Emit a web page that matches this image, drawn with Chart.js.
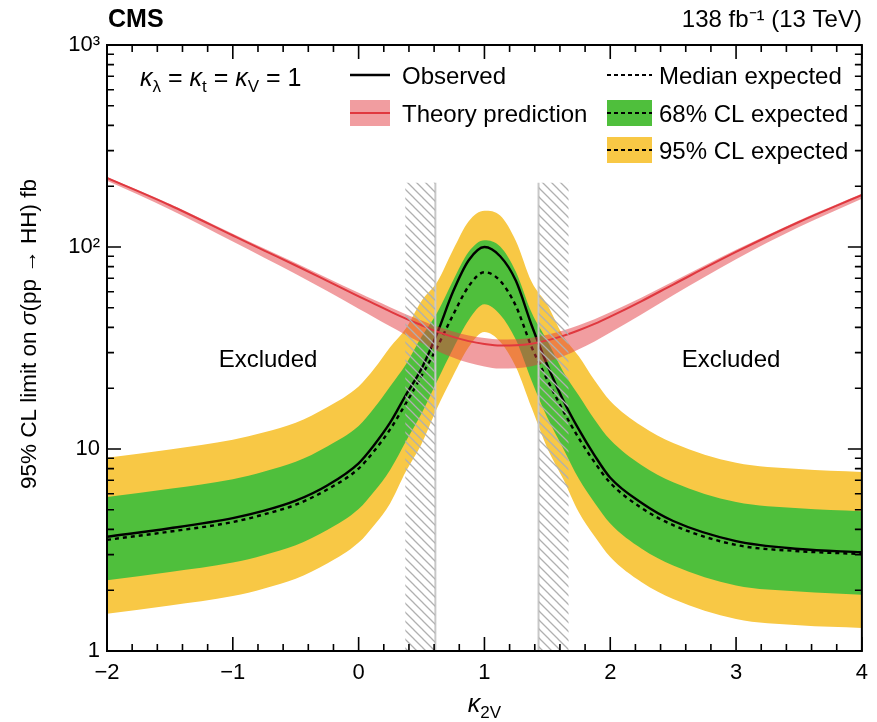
<!DOCTYPE html>
<html>
<head>
<meta charset="utf-8">
<script src="https://cdn.jsdelivr.net/npm/chart.js@4"></script>
<style>
  html, body { margin: 0; padding: 0; background: #fff; }
</style>
</head>
<body>
<canvas id="chart" width="877" height="722"></canvas>
<script>
// kappa_2V scan points
const k2v = [-2, -1.5, -1, -0.75, -0.5, -0.25, 0, 0.125, 0.25, 0.375, 0.5, 0.625, 0.75, 0.875,
             1, 1.125, 1.25, 1.375, 1.5, 1.625, 1.75, 1.875, 2, 2.25, 2.5, 3, 3.5, 4];

const observed = [3.68, 4.05, 4.55, 4.95, 5.55, 6.6, 8.5, 10.5, 13.5, 18.5, 25, 37.5, 60, 86,
                  100, 90, 68, 41, 26, 17.5, 12.5, 9.3, 7.2, 5.4, 4.4, 3.5, 3.2, 3.08];
const expected = [3.55, 3.9, 4.35, 4.75, 5.3, 6.3, 8.0, 9.8, 12.5, 16.8, 23, 32, 46, 64,
                  75, 68, 51, 32, 22, 15.5, 11.3, 8.6, 6.8, 5.1, 4.2, 3.35, 3.12, 3.02];
const exp68Up = [5.79, 6.36, 7.09, 7.74, 8.64, 10.3, 13.0, 16.0, 20.4, 26.2, 35.9, 47.4, 68.1, 94.7,
                 108, 100.6, 75.5, 47.4, 34.3, 24.2, 18.4, 14.0, 11.1, 8.31, 6.85, 5.46, 5.09, 4.92];
const exp68Dn = [2.24, 2.46, 2.74, 2.99, 3.34, 3.97, 5.04, 6.17, 7.88, 10.9, 15.0, 21.8, 31.3, 43.5,
                 52, 46.2, 34.7, 21.8, 14.3, 10.1, 7.12, 5.42, 4.28, 3.21, 2.65, 2.11, 1.97, 1.90];
const exp95Up = [9.05, 9.95, 11.1, 12.1, 13.5, 16.1, 20.4, 25.0, 31.9, 39.5, 54.1, 67.2, 96.6, 134,
                 151, 143, 107, 67.2, 51.7, 36.4, 28.8, 21.9, 17.3, 13.0, 10.7, 8.54, 7.96, 7.70];
const exp95Dn = [1.53, 1.68, 1.87, 2.04, 2.28, 2.71, 3.44, 4.21, 5.38, 7.73, 10.6, 16.0, 23.0, 32,
                 38, 34, 25.5, 16, 10.1, 7.13, 4.86, 3.70, 2.92, 2.19, 1.81, 1.44, 1.34, 1.30];

const theory   = [220, 161, 114, 96, 81, 68, 57, 52.3, 48.0, 44.2, 41.0, 38.1, 35.9, 34.2,
                  33.1, 32.5, 32.6, 33.2, 34.5, 36.3, 38.7, 41.6, 45.2, 54.0, 65.2, 94.5, 133, 181];
const theoryUp = [222.3, 163.3, 116.3, 98.3, 83.3, 70.3, 59.3, 54.6, 50.3, 46.5, 43.3, 40.4, 38.2, 36.5,
                  35.4, 34.8, 34.9, 35.5, 36.8, 38.6, 41.0, 43.9, 47.5, 56.3, 67.5, 96.8, 135.3, 183.3];
const theoryDn = [212.5, 153.5, 106.5, 88.5, 73.5, 60.5, 49.5, 44.8, 40.5, 36.7, 33.5, 30.6, 28.4, 26.7,
                  25.6, 25.0, 25.1, 25.7, 27.0, 28.8, 31.2, 34.1, 37.7, 46.5, 57.7, 87.0, 125.5, 173.5];

// excluded-region hatching: kappa_2V edges and top of the hatch (fb)
const exclLeft = [0.37, 0.61];
const exclRight = [1.43, 1.67];
const hatchTop = 208;

const xTicks = [-2, -1, 0, 1, 2, 3, 4];
const yTicks = [1, 10, 100, 1000];
const yTickLabels = ['1', '10', '10\u00B2', '10\u00B3'];

const FONT = '"Liberation Sans", Arial, Helvetica, sans-serif';
const YELLOW = '#f8c845';
const GREEN = '#4fbf3c';
const PINK = 'rgba(228, 60, 66, 0.5)';
const RED = '#e0383f';

function pts(ys) {
    return k2v.map((x, i) => ({ x: x, y: ys[i] }));
}

function makeHatch() {
    const c = document.createElement('canvas');
    c.width = 9; c.height = 9;
    const g = c.getContext('2d');
    g.strokeStyle = '#b0b0b0';
    g.lineWidth = 1.3;
    g.beginPath();
    g.moveTo(-1, -1); g.lineTo(10, 10);
    g.moveTo(-1, 8); g.lineTo(1, 10);
    g.moveTo(8, -1); g.lineTo(10, 1);
    g.stroke();
    return g.createPattern(c, 'repeat');
}
const hatch = makeHatch();

const base = { pointRadius: 0, borderWidth: 0, cubicInterpolationMode: 'monotone', fill: false };

function drawText(ctx, parts, x, y, align) {
    // parts: [text, font, dy]
    let w = 0;
    parts.forEach(p => { ctx.font = p[1]; w += ctx.measureText(p[0]).width; });
    let cx = align === 'center' ? x - w / 2 : (align === 'right' ? x - w : x);
    ctx.textAlign = 'left';
    parts.forEach(p => {
        ctx.font = p[1];
        ctx.fillText(p[0], cx, y + (p[2] || 0));
        cx += ctx.measureText(p[0]).width;
    });
}

const decorations = {
    id: 'decorations',
    afterDraw(chart) {
        const ctx = chart.ctx;
        const a = chart.chartArea;
        const xs = chart.scales.x, ys = chart.scales.y;
        ctx.save();
        ctx.strokeStyle = '#000';
        ctx.fillStyle = '#000';

        // frame
        ctx.lineWidth = 2;
        ctx.strokeRect(a.left, a.top, a.right - a.left, a.bottom - a.top);

        // inward ticks, x
        ctx.lineWidth = 1.6;
        ctx.beginPath();
        for (let i = 0; i <= 30; i++) {
            const v = -2 + i * 0.2;
            const px = xs.getPixelForValue(v);
            const len = (i % 5 === 0) ? 14 : 7;
            ctx.moveTo(px, a.bottom); ctx.lineTo(px, a.bottom - len);
            ctx.moveTo(px, a.top); ctx.lineTo(px, a.top + len);
        }
        // inward ticks, y
        for (let d = 0; d < 3; d++) {
            for (let m = 1; m <= 9; m++) {
                const py = ys.getPixelForValue(m * Math.pow(10, d));
                const len = m === 1 ? 14 : 7;
                ctx.moveTo(a.left, py); ctx.lineTo(a.left + len, py);
                ctx.moveTo(a.right, py); ctx.lineTo(a.right - len, py);
            }
        }
        ctx.stroke();

        ctx.textBaseline = 'alphabetic';
        const rg = '24px ' + FONT;
        // header
        drawText(ctx, [['CMS', 'bold 25px ' + FONT]], 108, 27, 'left');
        drawText(ctx, [['138 fb\u207B\u00B9 (13 TeV)', rg]], a.right, 27, 'right');

        // coupling text
        const it2 = 'italic 25px ' + FONT, rg2 = '25px ' + FONT, sb2 = '17px ' + FONT;
        drawText(ctx, [['\u03BA', it2], ['\u03BB', sb2, 6], [' = ', rg2], ['\u03BA', it2], ['t', sb2, 6],
                       [' = ', rg2], ['\u03BA', it2], ['V', sb2, 6], [' = 1', rg2]], 140, 86, 'left');

        // legend
        ctx.lineWidth = 2.5;
        ctx.strokeStyle = '#000';
        ctx.setLineDash([]);
        ctx.beginPath(); ctx.moveTo(350, 75); ctx.lineTo(390, 75); ctx.stroke();
        drawText(ctx, [['Observed', rg]], 402, 84, 'left');

        ctx.fillStyle = PINK;
        ctx.fillRect(350, 100, 40, 26);
        ctx.strokeStyle = RED; ctx.lineWidth = 2;
        ctx.beginPath(); ctx.moveTo(350, 113); ctx.lineTo(390, 113); ctx.stroke();
        ctx.fillStyle = '#000';
        drawText(ctx, [['Theory prediction', rg]], 402, 122, 'left');

        ctx.fillStyle = GREEN; ctx.fillRect(607, 100, 45, 26);
        ctx.fillStyle = YELLOW; ctx.fillRect(607, 137, 45, 26);
        ctx.strokeStyle = '#000'; ctx.lineWidth = 2.2;
        ctx.setLineDash([4, 3]);
        ctx.beginPath();
        ctx.moveTo(607, 75); ctx.lineTo(652, 75);
        ctx.moveTo(607, 113); ctx.lineTo(652, 113);
        ctx.moveTo(607, 150); ctx.lineTo(652, 150);
        ctx.stroke();
        ctx.setLineDash([]);
        ctx.fillStyle = '#000';
        drawText(ctx, [['Median expected', rg]], 659, 84, 'left');
        drawText(ctx, [['68% CL expected', rg]], 659, 122, 'left');
        drawText(ctx, [['95% CL expected', rg]], 659, 159, 'left');

        // region labels
        drawText(ctx, [['Excluded', rg]], 268, 367, 'center');
        drawText(ctx, [['Excluded', rg]], 731, 367, 'center');

        // axis titles
        drawText(ctx, [['\u03BA', 'italic 25px ' + FONT], ['2V', '17px ' + FONT, 6]], (a.left + a.right) / 2, 712, 'center');
        ctx.save();
        ctx.translate(36, 334);
        ctx.rotate(-Math.PI / 2);
        const tf = '22.5px ' + FONT;
        drawText(ctx, [['95% CL limit on ', tf], ['\u03C3', 'italic 22.5px ' + FONT], ['(pp \u2192 HH) fb', tf]], 0, 0, 'center');
        ctx.restore();

        ctx.restore();
    }
};

new Chart(document.getElementById('chart'), {
    type: 'line',
    data: {
        datasets: [
            { ...base, data: pts(exp95Up), backgroundColor: YELLOW, fill: { target: 1 }, order: 6 },
            { ...base, data: pts(exp95Dn), order: 6 },
            { ...base, data: pts(exp68Up), backgroundColor: GREEN, fill: { target: 3 }, order: 5 },
            { ...base, data: pts(exp68Dn), order: 5 },
            { ...base, data: pts(expected), borderColor: '#000', borderWidth: 2.4, borderDash: [4, 4], order: 4 },
            { ...base, data: pts(observed), borderColor: '#000', borderWidth: 2.4, order: 3 },
            { ...base, data: pts(theoryUp), backgroundColor: PINK, fill: { target: 7 }, order: 2 },
            { ...base, data: pts(theoryDn), order: 2 },
            { ...base, data: pts(theory), borderColor: RED, borderWidth: 2, order: 1 },
            { ...base, data: exclLeft.map(x => ({ x: x, y: hatchTop })), backgroundColor: hatch, fill: 'start', order: 0, cubicInterpolationMode: 'default' },
            { ...base, data: exclRight.map(x => ({ x: x, y: hatchTop })), backgroundColor: hatch, fill: 'start', order: 0, cubicInterpolationMode: 'default' },
            { ...base, data: [{ x: exclLeft[1], y: 1 }, { x: exclLeft[1], y: hatchTop }], borderColor: '#c8c8c8', borderWidth: 2, order: 0, cubicInterpolationMode: 'default' },
            { ...base, data: [{ x: exclRight[0], y: 1 }, { x: exclRight[0], y: hatchTop }], borderColor: '#c8c8c8', borderWidth: 2, order: 0, cubicInterpolationMode: 'default' }
        ]
    },
    options: {
        responsive: false,
        animation: false,
        devicePixelRatio: 1,
        layout: { padding: { top: 45, right: 8, left: 0, bottom: 0 } },
        plugins: {
            legend: { display: false },
            tooltip: { enabled: false }
        },
        scales: {
            x: {
                type: 'linear',
                min: -2,
                max: 4,
                afterBuildTicks: s => { s.ticks = xTicks.map(v => ({ value: v })); },
                afterFit: s => { s.height = 71; },
                grid: { display: false, drawTicks: false },
                border: { display: false },
                ticks: {
                    padding: 9,
                    color: '#000',
                    font: { family: FONT, size: 22 },
                    callback: v => String(v).replace('-', '\u2212')
                }
            },
            y: {
                type: 'logarithmic',
                min: 1,
                max: 1000,
                afterBuildTicks: s => { s.ticks = yTicks.map(v => ({ value: v })); },
                afterFit: s => { s.width = 107; },
                grid: { display: false, drawTicks: false },
                border: { display: false },
                ticks: {
                    padding: 7,
                    autoSkip: false,
                    color: '#000',
                    font: { family: FONT, size: 22 },
                    callback: v => yTickLabels[yTicks.indexOf(v)]
                }
            }
        }
    },
    plugins: [decorations]
});
</script>
</body>
</html>
